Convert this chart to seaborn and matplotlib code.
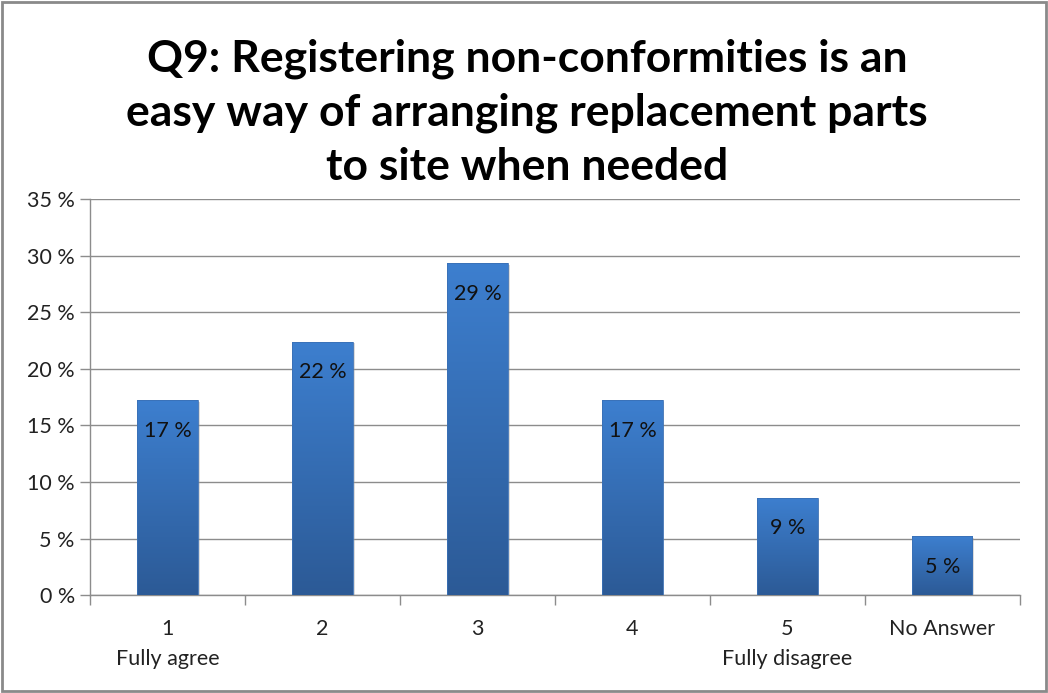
import numpy as np
import pandas as pd
import matplotlib
matplotlib.use("Agg")
import matplotlib.pyplot as plt
from matplotlib.colors import LinearSegmentedColormap
from matplotlib.patches import Rectangle
import seaborn as sns

# Survey responses, share of respondents (%)
categories = ["1\nFully agree", "2", "3", "4", "5\nFully disagree", "No Answer"]
shares = [17.2, 22.4, 29.3, 17.2, 8.6, 5.2]
y_ticks = [0, 5, 10, 15, 20, 25, 30, 35]

title = ("Q9: Registering non-conformities is an\n"
         "easy way of arranging replacement parts\n"
         "to site when needed")

sns.set_theme(style="white")
plt.rcParams["font.family"] = ["Lato", "DejaVu Sans"]

df = pd.DataFrame({"category": categories, "share": shares})

fig = plt.figure(figsize=(10.48, 6.93), dpi=100)
ax = fig.add_axes([0.086, 0.141, 0.887, 0.572])

sns.barplot(data=df, x="category", y="share", ax=ax, color="#3a74c0",
            width=0.39, saturation=1, zorder=3)

ax.set_ylim(0, 35)
ax.set_xlim(-0.5, len(categories) - 0.5)
ax.set_yticks(y_ticks)
ax.set_yticklabels([f"{t} %" for t in y_ticks], fontsize=15.5, color="#222222")
ax.yaxis.grid(True, color="#8c8c8c", linewidth=1.0, zorder=0)
ax.set_axisbelow(True)
ax.set_xlabel("")
ax.set_ylabel("")

# category ticks sit on the boundaries between bars
ax.set_xticks(np.arange(len(categories)))
ax.set_xticklabels(categories, fontsize=15.5, color="#222222", linespacing=1.65,
                   va="top")
ax.tick_params(axis="x", length=0, pad=17)
ax.set_xticks(np.arange(-0.5, len(categories)), minor=True)
ax.tick_params(axis="x", which="minor", length=7, width=1, color="#8c8c8c",
               direction="out", bottom=True)
ax.tick_params(axis="y", length=7, width=1, color="#8c8c8c", direction="out",
               left=True, pad=4)

for side in ["top", "right"]:
    ax.spines[side].set_visible(False)
for side in ["left", "bottom"]:
    ax.spines[side].set_color("#8c8c8c")
    ax.spines[side].set_linewidth(1.0)

# vertical gradient fill on each bar, plus a soft drop shadow
grad = LinearSegmentedColormap.from_list("bar", ["#2c5a96", "#3d7fcf"])
gradient = np.linspace(0, 1, 256).reshape(-1, 1)
for patch in list(ax.patches):
    x0, y0 = patch.get_x(), patch.get_y()
    w, h = patch.get_width(), patch.get_height()
    shadow = Rectangle((x0 + 0.012, y0), w, h - 0.15, facecolor="#9a9a9a",
                       alpha=0.35, edgecolor="none", zorder=2.5)
    ax.add_patch(shadow)
    im = ax.imshow(gradient, cmap=grad, aspect="auto", origin="lower",
                   extent=[x0, x0 + w, y0, y0 + h], zorder=3.5)
    im.set_clip_path(patch)
    patch.set_facecolor("none")
    patch.set_edgecolor("#3a70b5")
    patch.set_linewidth(0.6)
    patch.set_zorder(3.6)

ax.set_xlim(-0.5, len(categories) - 0.5)
ax.set_ylim(0, 35)

# value labels inside the top of each bar
for i, v in enumerate(shares):
    ax.annotate(f"{round(v):d} %", xy=(i, v), xytext=(0, -22),
                textcoords="offset points", ha="center", va="center",
                fontsize=15.5, color="#111111", zorder=5)

fig.text(0.503, 0.837, title, ha="center", va="center", fontsize=32,
         fontweight="bold", linespacing=1.42, color="#000000")

# outer chart frame
fig.patches.append(Rectangle((0.002, 0.003), 0.996, 0.994, transform=fig.transFigure,
                             fill=False, edgecolor="#8a8a8a", linewidth=2.0))

fig.savefig("out.png", dpi=100, facecolor="white")
